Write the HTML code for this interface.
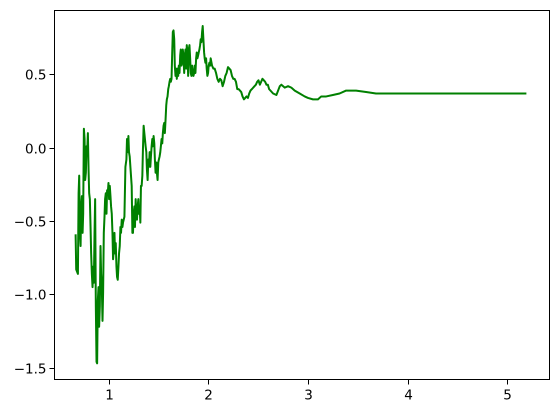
<!DOCTYPE html>
<html><head><meta charset="utf-8"><style>
html,body{margin:0;padding:0;background:#fff;}
svg{display:block;font-family:"DejaVu Sans","Liberation Sans",sans-serif;}
</style></head><body>
<svg id="chart" width="559" height="413" viewBox="0 0 559 413" xmlns="http://www.w3.org/2000/svg">
<rect x="0" y="0" width="559" height="413" fill="#fff"/>
<g id="plot"></g>
<g id="axes"></g>
</svg>
<script>
const xs = [
0.667,0.673,0.690,0.697,0.703,0.710,0.717,0.723,0.730,0.737,
0.743,0.750,0.757,0.763,0.770,0.777,0.783,0.790,0.797,0.803,
0.810,0.817,0.823,0.830,0.837,0.843,0.850,0.857,0.863,0.870,
0.877,0.883,0.890,0.897,0.903,0.910,0.917,0.923,0.930,0.937,
0.943,0.950,0.957,0.963,0.970,0.977,0.983,0.990,0.997,1.003,
1.010,1.017,1.023,1.030,1.037,1.043,1.050,1.057,1.063,1.070,
1.077,1.083,1.090,1.097,1.103,1.110,1.117,1.123,1.130,1.137,
1.143,1.157,1.167,1.177,1.183,1.190,1.197,1.203,1.210,1.217,
1.230,1.237,1.243,1.250,1.257,1.263,1.270,1.277,1.283,1.290,
1.297,1.303,1.310,1.317,1.323,1.330,1.337,1.343,1.350,1.357,
1.363,1.370,1.377,1.383,1.390,1.397,1.403,1.410,1.417,1.423,
1.430,1.437,1.443,1.450,1.457,1.463,1.470,1.477,1.483,1.490,
1.497,1.503,1.510,1.517,1.523,1.530,1.537,1.543,1.550,1.557,
1.563,1.570,1.577,1.583,1.590,1.597,1.603,1.610,1.617,1.623,
1.630,1.637,1.643,1.650,1.657,1.663,1.670,1.677,1.683,1.690,
1.697,1.703,1.710,1.717,1.723,1.730,1.737,1.743,1.750,1.757,
1.763,1.770,1.777,1.783,1.790,1.797,1.803,1.810,1.817,1.823,
1.830,1.837,1.843,1.850,1.857,1.863,1.870,1.877,1.883,1.890,
1.897,1.903,1.910,1.917,1.923,1.930,1.937,1.943,1.950,1.957,
1.963,1.970,1.977,1.983,1.990,1.997,2.003,2.010,2.017,2.023,
2.037,2.050,2.063,2.077,2.090,2.103,2.117,2.130,2.143,2.157,
2.170,2.183,2.197,2.210,2.223,2.237,2.250,2.263,2.277,2.290,
2.303,2.317,2.330,2.343,2.357,2.370,2.383,2.397,2.410,2.423,
2.437,2.450,2.463,2.477,2.490,2.503,2.517,2.530,2.543,2.557,
2.570,2.583,2.597,2.610,2.650,2.683,2.717,2.733,2.767,2.800,
2.833,2.867,2.917,2.967,3.000,3.050,3.100,3.133,3.183,3.250,
3.317,3.383,3.483,3.583,3.683,3.950,5.193
];
const ys = [
-0.59,-0.83,-0.86,-0.31,-0.19,-0.58,-0.67,-0.40,-0.33,-0.58,
-0.45,0.13,0.06,-0.22,-0.17,0.01,-0.03,0.10,-0.15,-0.31,
-0.35,-0.54,-0.72,-0.86,-0.95,-0.81,-0.92,-0.58,-0.35,-1.08,
-1.46,-1.47,-1.04,-0.95,-1.22,-1.08,-0.67,-0.86,-0.95,-1.18,
-0.99,-0.58,-0.47,-0.35,-0.31,-0.45,-0.29,-0.31,-0.24,-0.35,
-0.26,-0.33,-0.40,-0.45,-0.58,-0.76,-0.70,-0.58,-0.72,-0.65,
-0.81,-0.88,-0.90,-0.81,-0.72,-0.67,-0.54,-0.58,-0.49,-0.54,
-0.51,-0.47,-0.13,-0.08,0.06,-0.03,0.08,-0.03,-0.06,-0.13,
-0.26,-0.58,-0.58,-0.45,-0.40,-0.54,-0.35,-0.47,-0.49,-0.40,
-0.35,-0.45,-0.40,-0.51,-0.26,-0.26,-0.19,-0.01,0.15,0.10,
0.06,0.01,-0.03,-0.15,-0.22,-0.08,-0.13,-0.03,-0.13,-0.06,
0.01,0.06,0.01,0.08,0.03,-0.08,-0.17,-0.10,-0.17,-0.22,
-0.10,-0.08,-0.06,-0.03,0.01,0.06,0.03,0.10,0.15,0.17,
0.10,0.19,0.29,0.33,0.35,0.40,0.42,0.45,0.47,0.45,
0.47,0.65,0.79,0.80,0.74,0.56,0.49,0.54,0.47,0.54,
0.49,0.56,0.51,0.63,0.67,0.56,0.58,0.67,0.63,0.51,
0.61,0.67,0.54,0.70,0.65,0.49,0.67,0.70,0.61,0.51,
0.49,0.56,0.51,0.49,0.51,0.56,0.51,0.61,0.65,0.61,
0.63,0.65,0.67,0.70,0.74,0.72,0.79,0.83,0.74,0.65,
0.61,0.58,0.61,0.54,0.49,0.51,0.56,0.58,0.56,0.61,
0.56,0.54,0.54,0.51,0.47,0.45,0.47,0.46,0.42,0.45,
0.49,0.51,0.55,0.54,0.53,0.49,0.47,0.47,0.45,0.40,
0.40,0.39,0.38,0.35,0.33,0.34,0.35,0.34,0.37,0.39,
0.40,0.41,0.42,0.43,0.45,0.46,0.43,0.45,0.47,0.46,
0.45,0.43,0.43,0.40,0.37,0.36,0.42,0.43,0.41,0.42,
0.41,0.39,0.37,0.35,0.34,0.33,0.33,0.35,0.35,0.36,
0.37,0.39,0.39,0.38,0.37,0.37,0.37
];
const xTicks = [1,2,3,4,5];
const xTickLabels = ["1","2","3","4","5"];
const yTicks = [0.5,0,-0.5,-1,-1.5];
const yTickLabels = ["0.5","0.0","\u22120.5","\u22121.0","\u22121.5"];

const L=54.5, R=549.5, T=10.5, B=379.5;
const X0=0.455, X1=5.425, Y0=-1.58, Y1=0.936;
function sx(v){return L+(v-X0)/(X1-X0)*(R-L);}
function sy(v){return B-(v-Y0)/(Y1-Y0)*(B-T);}
const NS="http://www.w3.org/2000/svg";
const plot=document.getElementById('plot');
const axes=document.getElementById('axes');

let d="";
for(let i=0;i<xs.length;i++){d+=(i?"L":"M")+sx(xs[i]).toFixed(2)+","+sy(ys[i]).toFixed(2);}
const line=document.createElementNS(NS,'path');
line.setAttribute('d',d);
line.setAttribute('fill','none');
line.setAttribute('stroke','#008000');
line.setAttribute('stroke-width','2');
line.setAttribute('stroke-linejoin','round');


plot.appendChild(line);

const frame=document.createElementNS(NS,'rect');
frame.setAttribute('x',L);frame.setAttribute('y',T);
frame.setAttribute('width',R-L);frame.setAttribute('height',B-T);
frame.setAttribute('fill','none');frame.setAttribute('stroke','#000');frame.setAttribute('stroke-width','1');


axes.appendChild(frame);

xTicks.forEach((v,i)=>{
  const x=Math.round(sx(v))+0.5;
  const t=document.createElementNS(NS,'line');
  t.setAttribute('x1',x);t.setAttribute('x2',x);t.setAttribute('y1',B);t.setAttribute('y2',B+5);
  t.setAttribute('stroke','#000');t.setAttribute('stroke-width','1');
  
  
  axes.appendChild(t);
  const tx=document.createElementNS(NS,'text');
  tx.setAttribute('x',x);tx.setAttribute('y',B+20);
  tx.setAttribute('text-anchor','middle');tx.setAttribute('font-size','13.5');tx.setAttribute('fill','#000');
  tx.textContent=xTickLabels[i];
  
  
  axes.appendChild(tx);
});
yTicks.forEach((v,i)=>{
  const y=Math.round(sy(v))+0.5;
  const t=document.createElementNS(NS,'line');
  t.setAttribute('x1',L-5);t.setAttribute('x2',L);t.setAttribute('y1',y);t.setAttribute('y2',y);
  t.setAttribute('stroke','#000');t.setAttribute('stroke-width','1');
  
  
  axes.appendChild(t);
  const tx=document.createElementNS(NS,'text');
  tx.setAttribute('x',L-8);tx.setAttribute('y',y+5);
  tx.setAttribute('text-anchor','end');tx.setAttribute('font-size','13.5');tx.setAttribute('fill','#000');
  tx.textContent=yTickLabels[i];
  
  
  axes.appendChild(tx);
});
</script>
</body></html>
